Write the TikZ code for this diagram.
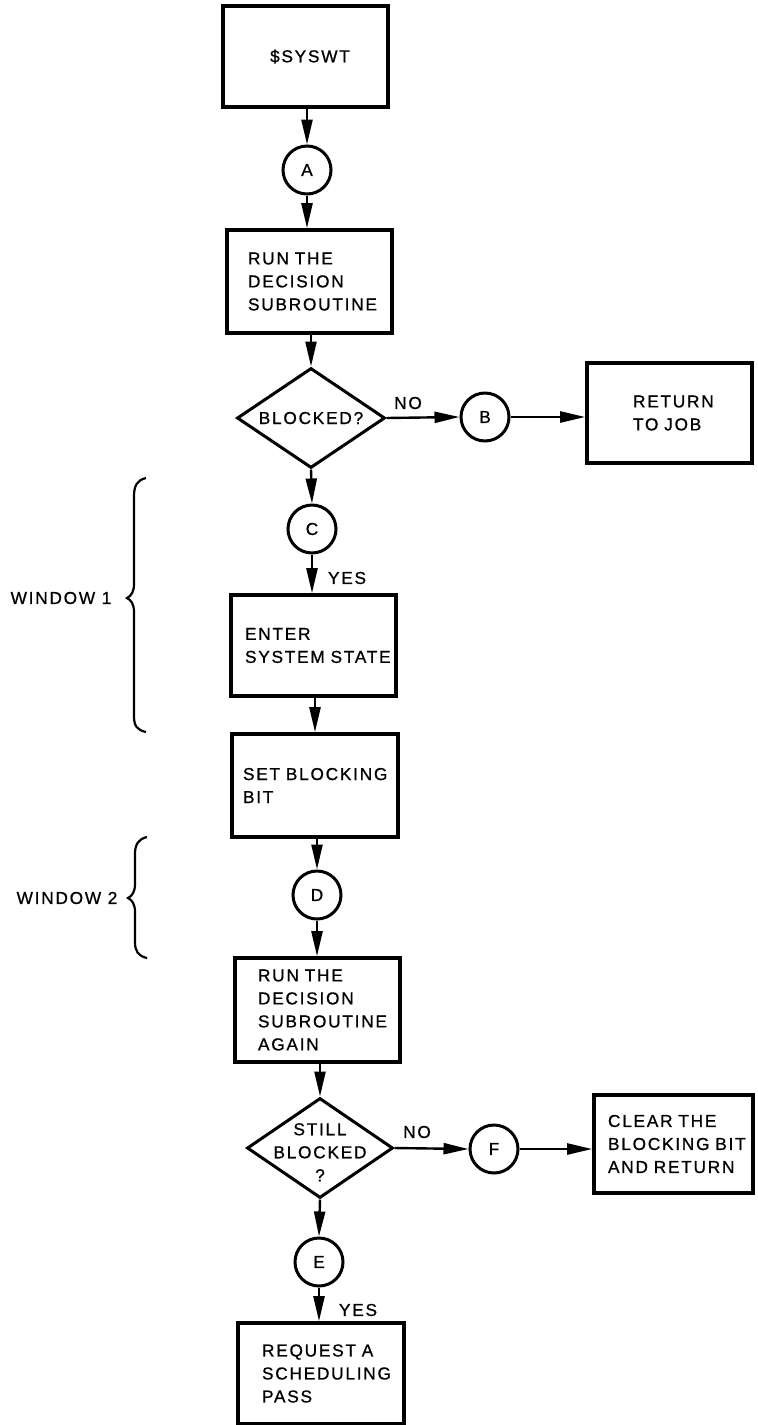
\documentclass[tikz,border=0pt]{standalone}
\usepackage{fontspec}
\setmainfont{Liberation Sans}[LetterSpace=10.0,FakeBold=0.8]
\usetikzlibrary{shapes.geometric,arrows.meta}
\begin{document}
\begin{tikzpicture}[x=1pt,y=-1pt,
  every node/.style={font=\fontsize{17.3}{23}\selectfont},
  pbox/.style={draw,line width=3.6pt,rectangle,align=left,inner ysep=0pt},
  conn/.style={circle,draw,line width=3pt,minimum size=48pt,inner sep=0pt},
  dec/.style={diamond,draw,line width=3pt,inner sep=0pt},
  flow/.style={line width=2.4pt,-{Triangle[length=25pt,width=11pt]}},
  lbl/.style={inner sep=0pt},
  brc/.style={line width=2.2pt}]
\useasboundingbox (0,0) rectangle (758,1425);
% boxes
\node[pbox,align=center,text width=165pt,inner xsep=0pt,minimum height=101pt] (sys) at (305.5,56.5) {\hspace*{9pt}\$SYSWT};
\node[pbox,text width=123pt,inner xsep=21pt,minimum height=103pt] (run1) at (309.5,281.5) {\mbox{RUN THE}\\\mbox{DECISION}\\\mbox{SUBROUTINE}};
\node[pbox,text width=73pt,inner xsep=46pt,minimum height=100pt] (ret) at (669.5,413) {\mbox{RETURN}\\\mbox{TO JOB}};
\node[pbox,text width=137pt,inner xsep=14pt,minimum height=101pt] (enter) at (313.5,645.5) {\mbox{ENTER}\\\mbox{SYSTEM STATE}};
\node[pbox,text width=144pt,inner xsep=11pt,minimum height=103pt] (setb) at (315,785.5) {\mbox{SET BLOCKING}\\\mbox{BIT}};
\node[pbox,text width=119pt,inner xsep=23pt,minimum height=104pt] (run2) at (317.5,1010) {\mbox{RUN THE}\\\mbox{DECISION}\\\mbox{SUBROUTINE}\\\mbox{AGAIN}};
\node[pbox,text width=131pt,inner xsep=14pt,minimum height=98pt] (clear) at (673.5,1144) {\mbox{CLEAR THE}\\\mbox{BLOCKING BIT}\\\mbox{AND RETURN}};
\node[pbox,text width=118pt,inner xsep=24pt,minimum height=101pt] (req) at (321,1373.5) {\mbox{REQUEST A}\\\mbox{SCHEDULING}\\\mbox{PASS}};
% connectors (circles)
\node[conn] (A) at (307,170) {A};
\node[conn] (B) at (485,417) {B};
\node[conn] (C) at (312,529) {C};
\node[conn] (D) at (317,895) {D};
\node[conn] (E) at (319,1262) {E};
\node[conn] (F) at (494,1149) {F};
% decisions
\node[dec,minimum width=148pt,minimum height=100pt] (d1) at (311,418) {\makebox[0pt]{\smash{\raisebox{-6pt}{BLOCKED?}}}};
\node[dec,minimum width=146pt,minimum height=100pt] (d2) at (320,1148) {\makebox[0pt]{\smash{\raisebox{-10pt}{\begin{tabular}{@{}c@{}}STILL\\BLOCKED\\?\end{tabular}}}}};
% labels
\node[lbl] (no1) at (408,403) {NO};
\node[lbl] (no2) at (417,1132) {NO};
\node[lbl] (yes1) at (347,578) {YES};
\node[lbl] (yes2) at (358,1310) {YES};
\node[lbl] (w1) at (61,598) {WINDOW 1};
\node[lbl] (w2) at (67,898) {WINDOW 2};
% flow
\draw[flow] (sys.south -| A.north) -- (A.north);
\draw[flow] (A.south) -- (A.south |- run1.north);
\draw[flow] (run1.south -| d1.north) -- (d1.north);
\draw[flow] (d1.south) -- (C.north);
\draw[flow] (C.south) -- (C.south |- enter.north);
\draw[flow] (enter.south -| setb.north) -- (setb.north);
\draw[flow] (setb.south -| D.north) -- (D.north);
\draw[flow] (D.south) -- (D.south |- run2.north);
\draw[flow] (run2.south -| d2.north) -- (d2.north);
\draw[flow] (d2.south) -- (E.north);
\draw[flow] (E.south) -- (E.south |- req.north);
\draw[flow] (d1.east) -- (B.west);
\draw[flow] (B.east) -- (B.east -| ret.west);
\draw[flow] (d2.east) -- (F.west);
\draw[flow] (F.east) -- (F.east -| clear.west);
% braces
\draw[brc] (146,478) .. controls (137,480) and (134,486) .. (134,496) -- (134,584)
  .. controls (134,592) and (131,596) .. (127,598)
  .. controls (131,600) and (134,604) .. (134,612) -- (134,716)
  .. controls (134,726) and (137,730) .. (146,732);
\draw[brc] (147,837) .. controls (138,839) and (135,845) .. (135,854) -- (135,884)
  .. controls (135,892) and (132,896) .. (128,898)
  .. controls (132,900) and (135,904) .. (135,912) -- (135,942)
  .. controls (135,951) and (138,956) .. (147,958);
\end{tikzpicture}
\end{document}
